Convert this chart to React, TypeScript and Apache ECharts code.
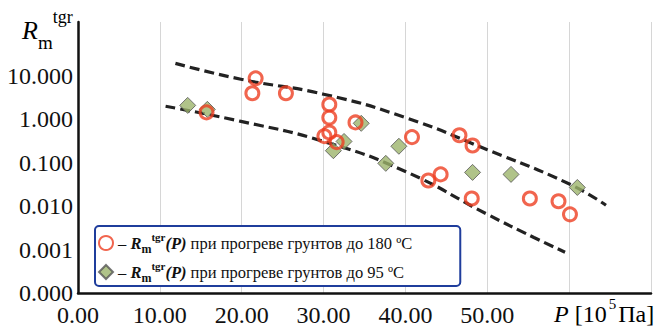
import React, { useEffect, useRef } from "react";
import * as echarts from "echarts";

// ---- data ----
const xTicks = [0, 10, 20, 30, 40, 50, 60];
const yTicks = [0.0001, 0.001, 0.01, 0.1, 1, 10];

const red180X = [15.7, 21.7, 21.3, 25.4, 30.7, 30.7, 30.7, 30.1, 31.6, 33.9, 40.8, 42.8, 44.3, 46.6, 48.2, 48.1, 55.2, 58.7, 60.1];
const red180Y = [1.45, 8.8, 4.0, 4.0, 2.2, 1.1, 0.5, 0.41, 0.3, 0.85, 0.39, 0.039, 0.054, 0.43, 0.25, 0.015, 0.015, 0.013, 0.0065];

const green95X = [13.4, 15.8, 31.2, 32.5, 34.6, 37.6, 39.2, 48.2, 52.9, 61.0];
const green95Y = [2.1, 1.7, 0.19, 0.31, 0.81, 0.097, 0.24, 0.06, 0.054, 0.027];

const upperX = [11.9, 19.9, 30.0, 40.0, 50.0, 60.1, 64.5];
const upperY = [19.5, 8.4, 3.8, 1.1, 0.2, 0.032, 0.0105];

const lowerX = [10.7, 19.9, 30.0, 40.0, 50.0, 55.7, 59.5];
const lowerY = [2.0, 0.9, 0.31, 0.063, 0.0065, 0.0019, 0.00087];

const names = ["180", "95"];
const legendTexts = ["при прогреве грунтов до 180 ºC", "при прогреве грунтов до 95 ºC"];

const zip = (xs: number[], ys: number[]) => xs.map((x, i) => [x, ys[i]]);

const SERIF = "Liberation Serif";

export default function App() {
  const ref = useRef<HTMLDivElement>(null);
  useEffect(() => {
    if (!ref.current) return;
    const chart = echarts.init(ref.current, undefined, { renderer: "svg" });
    const legendRich = {
      n: { fontFamily: SERIF, fontSize: 16.5, color: "#111", lineHeight: 24 },
      b: { fontFamily: SERIF, fontSize: 16.5, color: "#111", fontStyle: "italic", fontWeight: "bold", lineHeight: 24 },
      sub: { fontFamily: SERIF, fontSize: 12, color: "#111", fontWeight: "bold", lineHeight: 15, verticalAlign: "bottom" },
      sup: { fontFamily: SERIF, fontSize: 11, color: "#111", fontWeight: "bold", lineHeight: 16, verticalAlign: "top" },
    };
    chart.setOption({
      animation: false,
      backgroundColor: "#fff",
      textStyle: { fontFamily: SERIF },
      grid: { left: 78, right: -5, top: 22, bottom: 36 },
      xAxis: {
        type: "value",
        min: 0,
        max: 70,
        interval: 10,
        axisLine: { show: true, lineStyle: { color: "#111", width: 2.5 } },
        axisTick: { show: false },
        splitLine: { show: true, lineStyle: { color: "#d6d6d6", width: 1 } },
        axisLabel: {
          margin: 10,
          fontFamily: SERIF,
          fontSize: 24,
          color: "#111",
          formatter: (v: number) => (xTicks.includes(v) && v < 60 ? v.toFixed(2) : ""),
        },
      },
      yAxis: {
        type: "log",
        logBase: 10,
        min: 0.0001,
        max: 175,
        axisLine: { show: true, onZero: false, lineStyle: { color: "#111", width: 2.5 } },
        axisTick: { show: false },
        splitLine: { show: false },
        axisLabel: {
          margin: 5,
          fontFamily: SERIF,
          fontSize: 24,
          color: "#111",
          formatter: (v: number) => {
            const t = yTicks.find((y) => Math.abs(Math.log10(y) - Math.log10(v)) < 1e-6);
            return t !== undefined ? t.toFixed(3) : "";
          },
        },
      },
      legend: {
        data: names,
        orient: "vertical",
        left: 95,
        top: 226,
        padding: [5, 48, 2, 3],
        itemGap: 5,
        itemWidth: 14,
        itemHeight: 14,
        backgroundColor: "#fff",
        borderColor: "#1f3d9c",
        borderWidth: 2,
        borderRadius: 4,
        textStyle: { fontFamily: SERIF, rich: legendRich },
        formatter: (name: string) => {
          const i = names.indexOf(name);
          return `{n|– }{b|R}{sub|m}{sup|tgr}{b|(P)}{n| ${legendTexts[i]}}`;
        },
      },
      graphic: [
        {
          type: "text",
          left: 22,
          top: 8,
          style: {
            text: "{R|R}{m|m}{t|tgr}",
            rich: {
              R: { fontFamily: SERIF, fontSize: 26, fontStyle: "italic", color: "#111", lineHeight: 44, verticalAlign: "middle" },
              m: { fontFamily: SERIF, fontSize: 19, color: "#111", lineHeight: 20, verticalAlign: "bottom" },
              t: { fontFamily: SERIF, fontSize: 18, color: "#111", lineHeight: 18, verticalAlign: "top" },
            },
          },
        },
        {
          type: "text",
          left: 554,
          top: 296,
          style: {
            text: "{P|P}{n| [10}{s|5}{n|Па]}",
            rich: {
              P: { fontFamily: SERIF, fontSize: 24, fontStyle: "italic", color: "#111", lineHeight: 30, verticalAlign: "bottom" },
              n: { fontFamily: SERIF, fontSize: 24, color: "#111", lineHeight: 30, verticalAlign: "bottom" },
              s: { fontFamily: SERIF, fontSize: 15, color: "#111", lineHeight: 18, verticalAlign: "top", padding: [0, 2, 0, 2] },
            },
          },
        },
      ],
      series: [
        {
          type: "line",
          data: zip(upperX, upperY),
          smooth: true,
          showSymbol: false,
          silent: true,
          lineStyle: { color: "#222", width: 3.2, type: [10, 5] },
          z: 1,
        },
        {
          type: "line",
          data: zip(lowerX, lowerY),
          smooth: true,
          showSymbol: false,
          silent: true,
          lineStyle: { color: "#222", width: 3.2, type: [10, 5] },
          z: 1,
        },
        {
          name: "180",
          type: "scatter",
          data: zip(red180X, red180Y),
          symbol: "circle",
          symbolSize: 13,
          itemStyle: { color: "rgba(255,255,255,0)", borderColor: "#ee3f22", borderWidth: 3 },
          z: 3,
        },
        {
          name: "95",
          type: "scatter",
          data: zip(green95X, green95Y),
          symbol: "diamond",
          symbolSize: 16,
          itemStyle: { color: "#9cb46c", borderColor: "#555", borderWidth: 1 },
          z: 2,
        },
      ],
    });
    return () => chart.dispose();
  }, []);
  return <div ref={ref} style={{ width: 654, height: 329, position: "absolute", left: 0, top: 0 }} />;
}
